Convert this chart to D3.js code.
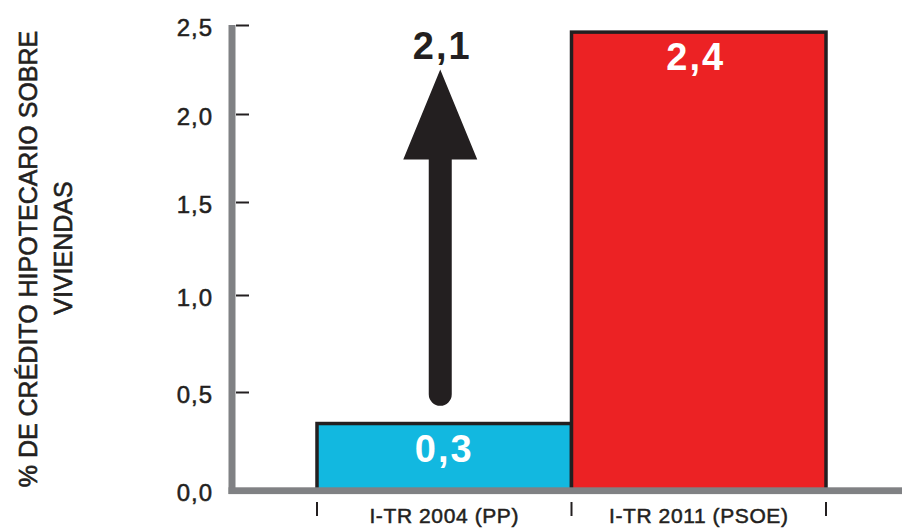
<!DOCTYPE html>
<html>
<head>
<meta charset="utf-8">
<script src="https://cdn.jsdelivr.net/npm/d3@7"></script>
<style>
  html, body { margin: 0; padding: 0; background: #ffffff; }
  svg { display: block; }
  text { font-family: "Liberation Sans", Arial, sans-serif; fill: #231f20; }
</style>
</head>
<body>
<svg id="chart" width="902" height="531"></svg>
<script>
// ---- data ----
const categories = ["I-TR 2004 (PP)", "I-TR 2011 (PSOE)"];
const values = [0.34, 2.46];
const barColors = ["#12b8e0", "#ec2224"];
const yTicks = [0, 0.5, 1.0, 1.5, 2.0, 2.5];
const yTickLabels = ["0,0", "0,5", "1,0", "1,5", "2,0", "2,5"];
const yTitleLines = ["% DE CRÉDITO HIPOTECARIO SOBRE", "VIVIENDAS"];
const arrowRange = [0.43, 2.25]; // arrow drawn from/to these axis values

const fmt = v => (Math.floor(v * 10 + 1e-6) / 10).toFixed(1).replace(".", ",");

const svg = d3.select("#chart");
const ink = "#231f20";
const gray = "#808184";

// y scale follows the (slightly uneven) tick spacing of the original
const y = d3.scaleLinear().domain(yTicks).range([490.5, 392, 295, 202, 114, 25]);
const x = d3.scaleBand().domain(categories).range([317, 826]).padding(0);

// bars
svg.append("g").selectAll("rect").data(values).join("rect")
  .attr("x", (d, i) => x(categories[i]))
  .attr("width", x.bandwidth())
  .attr("y", d => y(d))
  .attr("height", d => y(0) - y(d))
  .attr("fill", (d, i) => barColors[i])
  .attr("stroke", ink)
  .attr("stroke-width", 3.5);

// value labels inside bars
svg.append("g").selectAll("text").data(values).join("text")
  .attr("x", (d, i) => x(categories[i]) + x.bandwidth() / 2 - (i === 1 ? 3 : 0))
  .attr("y", d => y(d) + 38)
  .attr("text-anchor", "middle")
  .style("fill", "#ffffff")
  .style("font-weight", "bold")
  .style("font-size", "38px")
  .style("letter-spacing", "2px")
  .text(d => fmt(d));

// arrow (difference)
const ax = x(categories[0]) + x.bandwidth() / 2 - 4;
const yBottom = y(arrowRange[0]);
const yTip = y(arrowRange[1]);
const headBase = yTip + 90;
const shaftW = 23, headW = 74;
const arrowPath = d3.path();
arrowPath.moveTo(ax - shaftW / 2, headBase);
arrowPath.lineTo(ax - shaftW / 2, yBottom - shaftW / 2);
arrowPath.arc(ax, yBottom - shaftW / 2, shaftW / 2, Math.PI, 0, true);
arrowPath.lineTo(ax + shaftW / 2, headBase);
arrowPath.lineTo(ax + headW / 2, headBase);
arrowPath.lineTo(ax, yTip);
arrowPath.lineTo(ax - headW / 2, headBase);
arrowPath.closePath();
svg.append("path").attr("d", arrowPath.toString()).attr("fill", ink);

svg.append("text")
  .attr("x", ax + 2)
  .attr("y", yTip - 11)
  .attr("text-anchor", "middle")
  .style("font-weight", "bold")
  .style("font-size", "38px")
  .style("letter-spacing", "2px")
  .text(fmt(values[1] - values[0]));

// y axis ticks and labels
const yAxis = d3.axisLeft(y)
  .tickValues(yTicks)
  .tickSize(13)
  .tickPadding(23)
  .tickFormat((d, i) => yTickLabels[i]);
const gy = svg.append("g").attr("transform", "translate(249,0)").call(yAxis);
gy.select(".domain").remove();
gy.selectAll(".tick line").attr("stroke", ink).attr("stroke-width", 2)
  .filter(d => d === 0).remove();
gy.selectAll(".tick text")
  .attr("dy", null)
  .attr("y", 10)
  .style("font-size", "24px")
  .style("letter-spacing", "1px")
  .style("fill", ink)
  .style("stroke", ink)
  .style("stroke-width", "0.5px")
  .style("font-family", "'Liberation Sans', Arial, sans-serif");

// gray axis lines
svg.append("rect").attr("x", 228.5).attr("y", y(2.5)).attr("width", 7)
  .attr("height", y(0) + 3.5 - y(2.5)).attr("fill", gray);
svg.append("rect").attr("x", 228.5).attr("y", y(0) - 3.2).attr("width", 902 - 228.5)
  .attr("height", 6.8).attr("fill", gray);

// category boundary ticks
const bounds = d3.range(categories.length + 1).map(i => x.range()[0] + i * x.step());
svg.append("g").selectAll("line").data(bounds).join("line")
  .attr("x1", d => d).attr("x2", d => d)
  .attr("y1", 502).attr("y2", 516)
  .attr("stroke", ink).attr("stroke-width", 2);

// category labels
svg.append("g").selectAll("text").data(categories).join("text")
  .attr("x", d => x(d) + x.bandwidth() / 2)
  .attr("y", 523)
  .attr("text-anchor", "middle")
  .style("font-size", "21px")
  .style("letter-spacing", "0.6px")
  .style("stroke", ink)
  .style("stroke-width", "0.5px")
  .text(d => d);

// y axis title (rotated)
const titleCenters = [[37, 259], [71.5, 248]];
svg.append("g").selectAll("text").data(yTitleLines).join("text")
  .attr("transform", (d, i) => `translate(${titleCenters[i][0]},${titleCenters[i][1]}) rotate(-90)`)
  .attr("text-anchor", "middle")
  .style("font-size", "25px")
  .style("stroke", ink)
  .style("stroke-width", "0.6px")
  .text(d => d);
</script>
</body>
</html>
